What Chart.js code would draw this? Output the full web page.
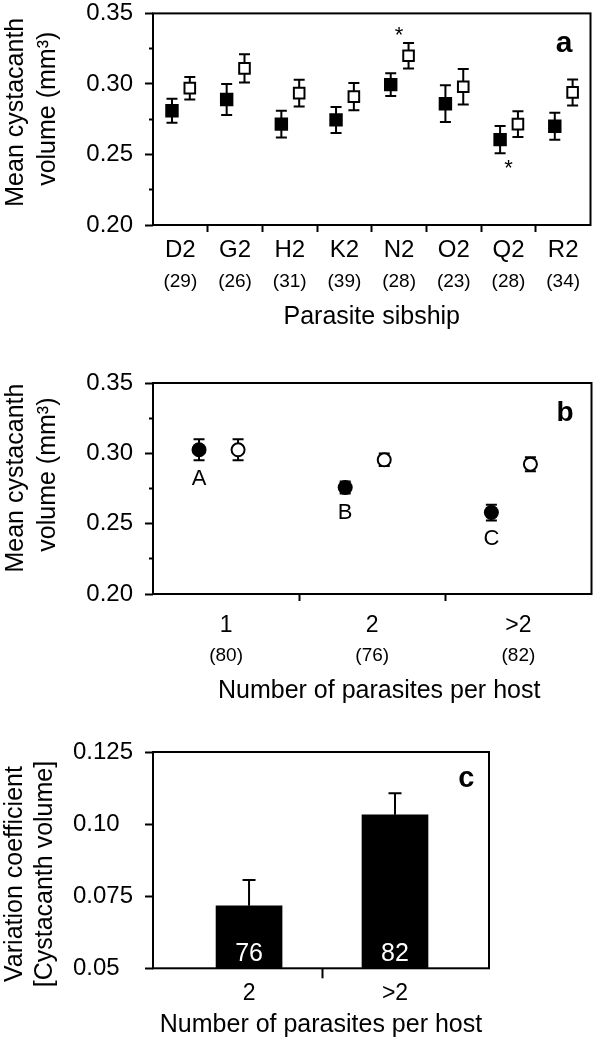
<!DOCTYPE html>
<html>
<head>
<meta charset="utf-8">
<script src="https://cdn.jsdelivr.net/npm/chart.js@4.4.0/dist/chart.umd.min.js"></script>
<style>
    html, body { margin: 0; padding: 0; background: #fff; overflow: hidden; }
    .panel { position: absolute; left: 0; width: 600px; }
</style>
</head>
<body>
<div class="panel" style="top:-13px;height:353px"><canvas id="chartA"></canvas></div>
<div class="panel" style="top:340px;height:370px"><canvas id="chartB"></canvas></div>
<div class="panel" style="top:710px;height:339px"><canvas id="chartC"></canvas></div>
<script>
// Panel a - cystacanth volume per parasite sibship
const sibships = ['D2', 'G2', 'H2', 'K2', 'N2', 'O2', 'Q2', 'R2'];
const sibshipN = ['(29)', '(26)', '(31)', '(39)', '(28)', '(23)', '(28)', '(34)'];
const sibFilled = [0.281, 0.289, 0.2715, 0.2745, 0.2995, 0.286, 0.2605, 0.270];
const sibFilledErr = [0.0085, 0.011, 0.0095, 0.0092, 0.008, 0.013, 0.0096, 0.0095];
const sibOpen = [0.297, 0.311, 0.2935, 0.291, 0.320, 0.298, 0.2715, 0.294];
const sibOpenErr = [0.008, 0.010, 0.0095, 0.0097, 0.009, 0.0125, 0.0091, 0.0092];
const starSibships = ['N2', 'Q2'];
const starValues = [0.338, 0.2436];
const volTickLabels = ['0.20', '0.25', '0.30', '0.35'];

// Panel b - cystacanth volume per infection intensity
const hostGroups = ['1', '2', '>2'];
const hostGroupN = ['(80)', '(76)', '(82)'];
const hostFilled = [0.3025, 0.2757, 0.2579];
const hostFilledErr = [0.0075, 0.0043, 0.0056];
const hostOpen = [0.3025, 0.2954, 0.2923];
const hostOpenErr = [0.0075, 0.0044, 0.005];
const hostLetters = ['A', 'B', 'C'];

// Panel c - variation coefficient
const cvGroups = ['2', '>2'];
const cvN = ['76', '82'];
const cvValues = [0.0717, 0.1032];
const cvErr = [0.0089, 0.0075];
const cvTickLabels = ['0.05  ', '0.075', '0.10  ', '0.125'];

const FONT = "'Liberation Sans', Arial, Helvetica, sans-serif";
const BLACK = '#000';
const CLEAR = 'rgba(0,0,0,0)';

Chart.defaults.font.family = FONT;
Chart.defaults.color = BLACK;

function errorBars(sets, capHalf, upOnly) {
    return {
        id: 'errorBars',
        beforeDatasetsDraw(chart) {
            const ctx = chart.ctx;
            const yScale = chart.scales.y;
            ctx.save();
            ctx.strokeStyle = BLACK;
            ctx.lineWidth = 2;
            sets.forEach((errs, di) => {
                const meta = chart.getDatasetMeta(di);
                const data = chart.data.datasets[di].data;
                meta.data.forEach((el, i) => {
                    const v = data[i].y;
                    const top = yScale.getPixelForValue(v + errs[i]);
                    const bot = yScale.getPixelForValue(upOnly ? v : v - errs[i]);
                    ctx.beginPath();
                    ctx.moveTo(el.x, top);
                    ctx.lineTo(el.x, bot);
                    ctx.moveTo(el.x - capHalf, top);
                    ctx.lineTo(el.x + capHalf, top);
                    if (!upOnly) {
                        ctx.moveTo(el.x - capHalf, bot);
                        ctx.lineTo(el.x + capHalf, bot);
                    }
                    ctx.stroke();
                });
            });
            ctx.restore();
        }
    };
}

function frame(letter, dx, dy, size) {
    return {
        id: 'frame',
        afterDatasetsDraw(chart) {
            const ctx = chart.ctx;
            const a = chart.chartArea;
            ctx.save();
            ctx.strokeStyle = BLACK;
            ctx.lineWidth = 2;
            ctx.strokeRect(a.left, a.top, a.right - a.left, a.bottom - a.top);
            ctx.fillStyle = BLACK;
            ctx.font = `bold ${size}px ${FONT}`;
            ctx.textAlign = 'right';
            ctx.textBaseline = 'alphabetic';
            ctx.fillText(letter, a.right - dx, a.top + dy);
            ctx.restore();
        }
    };
}

function pointsOf(values, shift) {
    return values.map((v, i) => ({ x: i + shift, y: v }));
}

function ticksAt(values) {
    return scale => { scale.ticks = values.map(v => ({ value: v })); };
}

function categoryTicks(n) {
    const list = [];
    for (let i = 0; i < n; i++) {
        list.push(i);
        if (i < n - 1) list.push(i + 0.5);
    }
    return list;
}

function isLabelTick(c) {
    return !c.tick || Number.isInteger(c.tick.value);
}

// the reference centres its rotated titles a little off the axis middle
function volumeAxis(titleLines) {
    return {
        min: 0.2,
        max: 0.35,
        ticks: {
            stepSize: 0.025,
            padding: 12,
            font: { size: 24 },
            callback: (v, i) => (i % 2 === 0 ? volTickLabels[i / 2] : '')
        },
        grid: {
            drawOnChartArea: false,
            tickLength: 8,
            tickWidth: 2,
            tickColor: BLACK,
            tickBorderDash: c => (c.index % 2 ? [4, 4] : []),
            tickBorderDashOffset: c => (c.index % 2 ? 4 : 0)
        },
        border: { display: false },
        title: {
            display: true,
            text: titleLines,
            font: { size: 25, lineHeight: 1.28 },
            padding: { top: 0, bottom: 0 }
        },
        afterFit: s => { s.width = 153; }
    };
}

function countAxis(n, labels, pad, height, titleText) {
    return {
        type: 'linear',
        position: 'bottom',
        weight: 2,
        min: -0.5,
        max: n - 0.5,
        afterBuildTicks: ticksAt(labels.map((_, i) => i)),
        ticks: {
            autoSkip: false,
            maxRotation: 0,
            padding: pad,
            font: { size: 19 },
            callback: v => labels[Math.round(v)]
        },
        grid: { display: false, drawTicks: false },
        border: { display: false },
        title: {
            display: true,
            text: titleText,
            font: { size: 25 },
            padding: { top: 0, bottom: 0 }
        },
        afterFit: s => { s.height = height; }
    };
}

function groupAxis(labels, pad, height, fontSize) {
    return {
        type: 'linear',
        position: 'bottom',
        weight: 1,
        min: -0.5,
        max: labels.length - 0.5,
        afterBuildTicks: ticksAt(categoryTicks(labels.length)),
        ticks: {
            autoSkip: false,
            maxRotation: 0,
            padding: pad,
            font: { size: fontSize },
            callback: v => (Number.isInteger(v) ? labels[v] : '')
        },
        grid: {
            drawOnChartArea: false,
            offset: false,
            tickLength: 7,
            tickWidth: 2,
            tickColor: c => (isLabelTick(c) ? CLEAR : BLACK)
        },
        border: { display: false },
        afterFit: s => { s.height = height; }
    };
}

const baseOptions = {
    responsive: true,
    maintainAspectRatio: false,
    animation: false,
    events: [],
    plugins: { legend: { display: false }, tooltip: { enabled: false } }
};

// ---- Panel a ----
const starPlugin = {
    id: 'stars',
    afterDatasetsDraw(chart) {
        const ctx = chart.ctx;
        const xs = chart.scales.x, ys = chart.scales.y;
        ctx.save();
        ctx.fillStyle = BLACK;
        ctx.font = `22px ${FONT}`;
        ctx.textAlign = 'center';
        ctx.textBaseline = 'alphabetic';
        starSibships.forEach((s, i) => {
            const x = xs.getPixelForValue(sibships.indexOf(s));
            const y = ys.getPixelForValue(starValues[i]) + 12;
            ctx.fillText('*', x, y);
        });
        ctx.restore();
    }
};

new Chart(document.getElementById('chartA'), {
    type: 'scatter',
    data: {
        datasets: [
            {
                data: pointsOf(sibFilled, -0.153),
                pointStyle: 'rect',
                pointRadius: 9.5,
                backgroundColor: BLACK,
                borderWidth: 0
            },
            {
                data: pointsOf(sibOpen, 0.173),
                pointStyle: 'rect',
                pointRadius: 7.5,
                backgroundColor: '#fff',
                borderColor: BLACK,
                borderWidth: 2
            }
        ]
    },
    options: {
        ...baseOptions,
        layout: { padding: { top: 1, right: 3, bottom: 7.5, left: 0 } },
        scales: {
            x: groupAxis(sibships, 4, 42, 24),
            x2: countAxis(sibships.length, sibshipN, 3, 65.5, 'Parasite sibship'),
            y: volumeAxis(['  Mean cystacanth', '   volume (mm\u00B3)'])
        }
    },
    plugins: [errorBars([sibFilledErr, sibOpenErr], 5.5, false), frame('a', 18, 38.4, 30), starPlugin]
});

// ---- Panel b ----
const letterPlugin = {
    id: 'letters',
    afterDatasetsDraw(chart) {
        const ctx = chart.ctx;
        const meta = chart.getDatasetMeta(0);
        const ys = chart.scales.y;
        ctx.save();
        ctx.fillStyle = BLACK;
        ctx.font = `22px ${FONT}`;
        ctx.textAlign = 'center';
        ctx.textBaseline = 'alphabetic';
        meta.data.forEach((el, i) => {
            const y = ys.getPixelForValue(hostFilled[i] - hostFilledErr[i]) + 25;
            ctx.fillText(hostLetters[i], el.x, y);
        });
        ctx.restore();
    }
};

new Chart(document.getElementById('chartB'), {
    type: 'scatter',
    data: {
        datasets: [
            {
                data: pointsOf(hostFilled, -0.185),
                pointStyle: 'circle',
                pointRadius: 7.5,
                backgroundColor: BLACK,
                borderWidth: 0
            },
            {
                data: pointsOf(hostOpen, 0.082),
                pointStyle: 'circle',
                pointRadius: 6.5,
                backgroundColor: '#fff',
                borderColor: BLACK,
                borderWidth: 2
            }
        ]
    },
    options: {
        ...baseOptions,
        layout: { padding: { top: 43, right: 2, bottom: 4, left: 0 } },
        scales: {
            x: groupAxis(hostGroups, 10.5, 48, 23),
            x2: countAxis(hostGroups.length, hostGroupN, 2, 64, '  Number of parasites per host'),
            y: volumeAxis(['   Mean cystacanth', '    volume (mm\u00B3)'])
        }
    },
    plugins: [errorBars([hostFilledErr, hostOpenErr], 5.5, false), frame('b', 18, 38.4, 28), letterPlugin]
});

// ---- Panel c ----
const barLabelPlugin = {
    id: 'barLabels',
    afterDatasetsDraw(chart) {
        const ctx = chart.ctx;
        const meta = chart.getDatasetMeta(0);
        ctx.save();
        ctx.fillStyle = '#fff';
        ctx.font = `25px ${FONT}`;
        ctx.textAlign = 'center';
        ctx.textBaseline = 'alphabetic';
        meta.data.forEach((el, i) => {
            ctx.fillText(cvN[i], el.x, chart.chartArea.bottom - 7.5);
        });
        ctx.restore();
    }
};

new Chart(document.getElementById('chartC'), {
    type: 'bar',
    data: {
        datasets: [{
            data: cvValues.map((v, i) => ({ x: i + 1, y: v })),
            backgroundColor: BLACK,
            borderWidth: 0,
            barThickness: 66
        }]
    },
    options: {
        ...baseOptions,
        layout: { padding: { top: 42, right: 111, bottom: 9, left: 0 } },
        scales: {
            x: {
                type: 'linear',
                offset: false,
                min: 0.342,
                max: 2.644,
                afterBuildTicks: ticksAt([1, 1.5, 2]),
                ticks: {
                    autoSkip: false,
                    maxRotation: 0,
                    padding: 2,
                    font: { size: 23 },
                    callback: v => (Number.isInteger(v) ? cvGroups[v - 1] : '')
                },
                grid: {
                    drawOnChartArea: false,
                    offset: false,
                    tickLength: 10,
                    tickWidth: 2,
                    tickColor: c => (isLabelTick(c) ? CLEAR : BLACK)
                },
                border: { display: false },
                title: {
                    display: true,
                    text: 'Number of parasites per host',
                    font: { size: 25 },
                    padding: { top: 0, bottom: 0 }
                },
                afterFit: s => { s.height = 71.7; }
            },
            y: {
                min: 0.05,
                max: 0.125,
                ticks: {
                    stepSize: 0.025,
                    padding: 12,
                    font: { size: 24 },
                    callback: (v, i) => cvTickLabels[i]
                },
                grid: {
                    drawOnChartArea: false,
                    tickLength: 8,
                    tickWidth: 2,
                    tickColor: BLACK
                },
                border: { display: false },
                title: {
                    display: true,
                    text: ['Variation coefficient    ', '[Cystacanth volume]    '],
                    font: { size: 25, lineHeight: 1.2 },
                    padding: { top: 0, bottom: 0 }
                },
                afterFit: s => { s.width = 153; }
            }
        }
    },
    plugins: [errorBars([cvErr], 6.5, true), frame('c', 14.5, 35, 29), barLabelPlugin]
});
</script>
</body>
</html>
